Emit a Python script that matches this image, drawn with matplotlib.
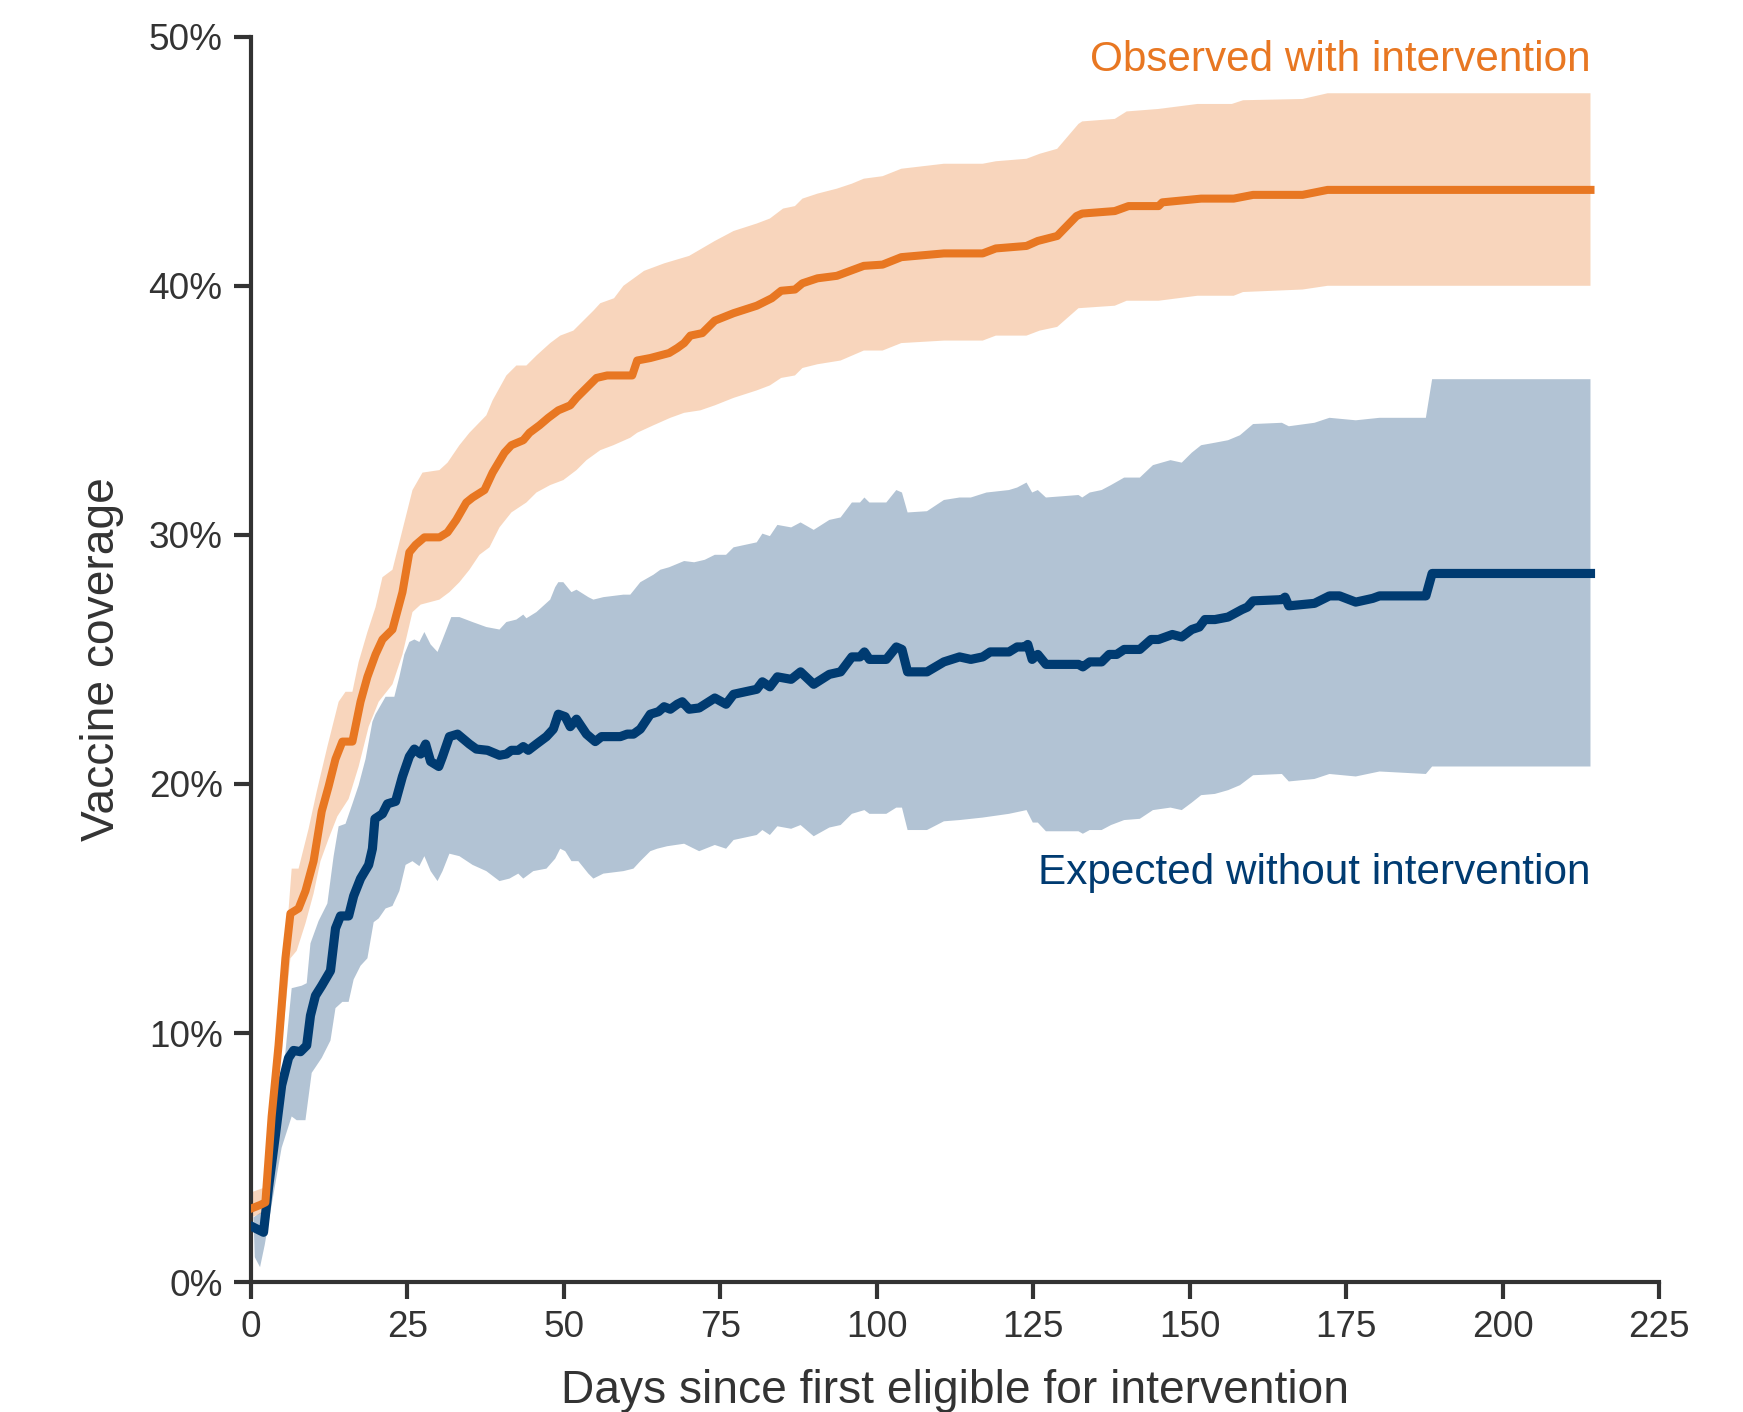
import numpy as np
import matplotlib
matplotlib.use("Agg")
import matplotlib.pyplot as plt

# ---- data (day, coverage %) ----
observed_mean = [(0, 2.95), (1.5, 3.1), (2.3, 3.2), (3.3, 6.65), (4.4, 9.5), (5.5, 13.0), (6.3, 14.8), (7.6, 15.0),
                 (8.7, 15.7), (10.0, 16.9), (11.3, 18.9), (12.4, 19.9), (13.5, 21.0), (14.6, 21.7), (16.2, 21.7),
                 (17.5, 23.3), (18.6, 24.3), (19.9, 25.2), (21.0, 25.8), (22.6, 26.2), (24.2, 27.7), (25.3, 29.3),
                 (26.3, 29.6), (27.7, 29.9), (30.1, 29.9), (31.4, 30.1), (32.8, 30.6), (34.4, 31.3), (35.4, 31.5),
                 (37.3, 31.8), (38.6, 32.5), (40.5, 33.3), (41.6, 33.6), (43.5, 33.8), (44.5, 34.1), (46.1, 34.4),
                 (47.5, 34.7), (49.1, 35.0), (51.0, 35.2), (52.0, 35.5), (53.6, 35.9), (55.2, 36.3), (56.9, 36.4),
                 (60.9, 36.4), (61.7, 37.0), (63.8, 37.1), (66.8, 37.3), (68.1, 37.5), (69.2, 37.7), (70.2, 38.0),
                 (72.1, 38.1), (74.1, 38.6), (77.1, 38.9), (80.8, 39.2), (83.2, 39.5), (84.7, 39.8), (86.9, 39.85),
                 (88.1, 40.1), (90.5, 40.3), (93.6, 40.4), (97.9, 40.8), (100.9, 40.85), (103.9, 41.15), (110.7, 41.3),
                 (116.9, 41.3), (119, 41.5), (123.9, 41.6), (125.7, 41.8), (128.8, 42.0), (131.9, 42.8), (132.8, 42.9),
                 (138, 43.0), (140.2, 43.2), (145, 43.2), (145.6, 43.35), (151.8, 43.5), (157, 43.5), (160.1, 43.65),
                 (168, 43.65), (172, 43.85), (214, 43.85)]

observed_upper = [(0, 3.6), (2.2, 3.8), (3.3, 7.7), (4.9, 11.3), (6.5, 16.6), (7.6, 16.6), (9.2, 18.2), (10.5, 19.7),
                  (12.2, 21.5), (14.0, 23.3), (15.1, 23.7), (16.2, 23.7), (17.2, 24.9), (18.6, 26.1), (19.9, 27.1),
                  (21.0, 28.3), (22.6, 28.6), (24.2, 30.2), (25.8, 31.8), (27.4, 32.5), (30.1, 32.6), (31.4, 32.9),
                  (33.3, 33.6), (34.9, 34.1), (37.6, 34.8), (38.6, 35.4), (40.8, 36.4), (42.4, 36.8), (44.0, 36.8),
                  (45.6, 37.2), (47.8, 37.7), (49.4, 38.0), (51.5, 38.2), (53.1, 38.6), (54.7, 39.0), (55.8, 39.3),
                  (58, 39.5), (59.5, 40.0), (62.8, 40.6), (66, 40.9), (70, 41.2), (74.1, 41.8), (77.1, 42.2),
                  (80.8, 42.5), (82.9, 42.7), (85, 43.1), (86.9, 43.2), (88.1, 43.5), (90.5, 43.7), (93.6, 43.9),
                  (96, 44.1), (97.9, 44.3), (100.9, 44.4), (103.9, 44.7), (110.7, 44.9), (116.9, 44.9), (119, 45.0),
                  (123.9, 45.1), (126, 45.3), (128.8, 45.5), (132.2, 46.5), (132.8, 46.6), (138, 46.7), (139.9, 47.0),
                  (145, 47.1), (151.2, 47.3), (156.7, 47.3), (158.5, 47.45), (168, 47.5), (172, 47.73), (214, 47.73)]

observed_lower = [(0, 2.6), (2.2, 2.8), (3.3, 5.4), (4.9, 9.5), (6.3, 13.0), (7.3, 13.3), (8.7, 14.4), (10, 15.6),
                  (11.1, 16.9), (12.4, 17.8), (13.8, 18.7), (15.6, 19.4), (17.2, 20.7), (18.8, 22.3), (20.4, 23.3),
                  (22.6, 24.0), (24.2, 25.2), (25.8, 26.9), (27.1, 27.2), (30.1, 27.4), (31.7, 27.7), (33.3, 28.1),
                  (34.9, 28.6), (36.5, 29.2), (38.1, 29.5), (39.7, 30.3), (41.6, 30.9), (44, 31.3), (45.6, 31.7),
                  (47.8, 32.0), (49.9, 32.2), (52, 32.6), (53.6, 33.0), (55.8, 33.4), (57.9, 33.6), (60.6, 33.9),
                  (61.7, 34.1), (64.3, 34.4), (67, 34.7), (69.2, 34.9), (71.8, 35.0), (74.1, 35.2), (77.1, 35.5),
                  (80.8, 35.8), (82.9, 36.0), (84.7, 36.3), (86.9, 36.4), (88.1, 36.7), (90.5, 36.85), (94.2, 37.0),
                  (97.9, 37.4), (100.9, 37.4), (103.9, 37.7), (110.7, 37.8), (116.9, 37.8), (119, 38.0), (123.9, 38.0),
                  (126, 38.2), (128.8, 38.35), (132.2, 39.1), (138, 39.2), (139.9, 39.4), (145, 39.4), (151.2, 39.6),
                  (157, 39.6), (158.5, 39.75), (168, 39.85), (172, 40.0), (214, 40.0)]

expected_mean = [(0.4, 2.2), (2.0, 2.0), (2.8, 3.8), (3.9, 5.9), (4.9, 7.9), (6.0, 9.0), (6.8, 9.3), (7.9, 9.25),
                 (8.9, 9.5), (9.5, 10.7), (10.3, 11.5), (11.3, 11.9), (12.7, 12.5), (13.5, 14.2), (14.3, 14.7),
                 (15.6, 14.7), (16.4, 15.5), (17.5, 16.2), (18.8, 16.75), (19.4, 17.4), (19.8, 18.6), (21.0, 18.8),
                 (21.8, 19.2), (23.1, 19.3), (24.2, 20.3), (25.3, 21.1), (26.1, 21.4), (27.1, 21.2), (27.9, 21.6),
                 (28.7, 20.9), (30.0, 20.7), (30.6, 21.1), (31.7, 21.9), (33.0, 22.0), (34.9, 21.6), (36.0, 21.4),
                 (37.8, 21.35), (39.7, 21.15), (40.8, 21.2), (41.6, 21.35), (42.7, 21.35), (43.5, 21.5), (44.3, 21.35),
                 (45.6, 21.6), (47.2, 21.9), (48.3, 22.2), (49.1, 22.8), (50.2, 22.7), (51.0, 22.3), (52.0, 22.6),
                 (53.6, 22.0), (55.0, 21.7), (56.0, 21.9), (59.0, 21.9), (60.1, 22.0), (61.1, 22.0), (62.2, 22.2),
                 (63.8, 22.8), (65.1, 22.9), (66.0, 23.1), (67.0, 23.0), (68.1, 23.2), (68.9, 23.3), (70.0, 23.0),
                 (71.6, 23.05), (74.1, 23.45), (75.9, 23.2), (77.1, 23.6), (80.8, 23.8), (81.7, 24.1), (82.9, 23.9),
                 (84.1, 24.3), (86.3, 24.2), (87.8, 24.5), (89.9, 24.0), (92.4, 24.4), (94.2, 24.5), (96.0, 25.1),
                 (97.3, 25.1), (98.0, 25.3), (98.8, 25.0), (101.5, 25.0), (103.1, 25.5), (104.0, 25.4), (104.9, 24.5),
                 (108.0, 24.5), (110.7, 24.9), (113.2, 25.1), (115.0, 25.0), (116.9, 25.1), (118.1, 25.3),
                 (121.1, 25.3), (122.4, 25.5), (123.6, 25.5), (124.1, 25.6), (124.8, 25.0), (125.7, 25.2),
                 (127.0, 24.8), (132.2, 24.8), (132.9, 24.7), (134.0, 24.9), (135.9, 24.9), (137.1, 25.2),
                 (138.3, 25.2), (139.5, 25.4), (142.0, 25.4), (143.8, 25.8), (145.0, 25.8), (147.2, 26.0),
                 (148.7, 25.9), (150.3, 26.2), (151.5, 26.3), (152.4, 26.6), (154.0, 26.6), (156.1, 26.7),
                 (158.3, 27.0), (159.2, 27.1), (160.1, 27.35), (164.7, 27.4), (165.2, 27.5), (165.8, 27.15),
                 (169.9, 27.25), (172.3, 27.55), (173.9, 27.55), (176.5, 27.3), (179.2, 27.45), (180.3, 27.55),
                 (187.7, 27.55), (188.7, 28.45), (214, 28.45)]

expected_upper = [(0.4, 2.6), (2.2, 2.9), (3.3, 5.4), (4.9, 7.7), (6.5, 11.8), (8.1, 11.9), (8.9, 12.0), (9.5, 13.6),
                  (10.8, 14.5), (12.2, 15.2), (13.2, 17.1), (14.0, 18.3), (15.1, 18.4), (16.2, 19.2), (17.2, 19.95),
                  (18.3, 21.0), (19.4, 22.5), (19.9, 22.8), (21.5, 23.5), (22.9, 23.5), (23.7, 24.3), (24.5, 25.2),
                  (25.3, 25.7), (26.1, 25.8), (26.9, 25.7), (27.7, 26.1), (28.7, 25.6), (29.8, 25.3), (30.6, 25.8),
                  (32.0, 26.7), (33.3, 26.7), (35.4, 26.5), (37.6, 26.3), (39.7, 26.2), (40.8, 26.5), (42.4, 26.6),
                  (43.5, 26.8), (44.0, 26.65), (45.6, 26.9), (47.8, 27.4), (48.6, 27.9), (49.1, 28.1), (49.9, 28.1),
                  (51.2, 27.7), (52.0, 27.8), (53.9, 27.5), (54.7, 27.4), (56.3, 27.5), (59.5, 27.6), (60.6, 27.6),
                  (62.2, 28.1), (64.3, 28.4), (65.4, 28.6), (66.8, 28.7), (69.2, 28.95), (70.8, 28.9), (72.5, 29.0),
                  (74.1, 29.2), (75.9, 29.2), (77.1, 29.5), (80.8, 29.7), (81.7, 30.05), (82.9, 29.95), (84.1, 30.4),
                  (86.3, 30.3), (87.8, 30.5), (89.9, 30.2), (92.4, 30.6), (94.2, 30.7), (96.0, 31.3), (97.3, 31.3),
                  (98.0, 31.5), (98.8, 31.3), (101.5, 31.3), (103.1, 31.8), (104.0, 31.7), (104.9, 30.9),
                  (108.0, 30.95), (110.7, 31.4), (113.2, 31.5), (115.0, 31.5), (117.5, 31.7), (121.1, 31.8),
                  (122.4, 31.9), (123.9, 32.1), (124.8, 31.7), (125.7, 31.8), (127.0, 31.5), (132.2, 31.6),
                  (132.8, 31.5), (134.0, 31.7), (135.9, 31.8), (137.4, 32.0), (139.5, 32.3), (142.0, 32.3),
                  (144.1, 32.8), (146.9, 33.0), (148.7, 32.9), (150.3, 33.3), (151.8, 33.6), (154.0, 33.7),
                  (156.1, 33.8), (158.0, 34.0), (160.1, 34.45), (164.7, 34.5), (165.8, 34.36), (169.9, 34.5),
                  (172.3, 34.7), (176.5, 34.6), (180.3, 34.7), (187.7, 34.7), (188.7, 36.25), (214, 36.25)]

expected_lower = [(0.6, 1.0), (1.45, 0.6), (2.2, 1.5), (3.3, 3.1), (4.9, 5.4), (6.5, 6.65), (7.3, 6.5), (8.7, 6.5),
                  (9.7, 8.4), (11.3, 9.0), (12.7, 9.7), (13.5, 11.0), (14.6, 11.25), (15.6, 11.25), (16.4, 12.15),
                  (17.5, 12.7), (18.6, 13.0), (19.6, 14.45), (20.4, 14.6), (21.5, 15.0), (22.6, 15.1), (23.7, 15.7),
                  (24.7, 16.75), (25.8, 16.9), (26.9, 16.7), (27.7, 17.1), (28.7, 16.5), (29.8, 16.1), (30.6, 16.5),
                  (31.7, 17.2), (33.3, 17.1), (35.4, 16.75), (37.6, 16.5), (39.7, 16.1), (41.3, 16.2), (42.7, 16.4),
                  (43.5, 16.2), (45.1, 16.5), (47.2, 16.6), (48.6, 17.0), (49.4, 17.4), (50.2, 17.3), (51.2, 16.9),
                  (52.3, 16.9), (53.9, 16.4), (54.7, 16.2), (56.3, 16.4), (59.5, 16.5), (61.1, 16.6), (62.2, 16.9),
                  (63.8, 17.3), (64.9, 17.4), (66.5, 17.5), (69.2, 17.6), (71.6, 17.3), (74.1, 17.55), (75.9, 17.4),
                  (77.1, 17.75), (80.8, 17.95), (81.7, 18.15), (82.9, 17.95), (84.1, 18.3), (86.3, 18.2),
                  (87.8, 18.35), (89.9, 17.9), (92.4, 18.25), (94.2, 18.35), (96.0, 18.8), (98.0, 18.95), (98.8, 18.8),
                  (101.5, 18.8), (103.1, 19.05), (104.0, 19.05), (104.9, 18.15), (108.0, 18.15), (110.7, 18.5),
                  (113.2, 18.55), (116.9, 18.65), (121.1, 18.8), (123.9, 18.95), (124.9, 18.45), (125.7, 18.45),
                  (127.0, 18.1), (132.2, 18.1), (132.9, 18.0), (134.0, 18.15), (135.9, 18.15), (137.4, 18.35),
                  (139.5, 18.55), (142.0, 18.6), (144.1, 18.95), (146.9, 19.05), (148.7, 18.95), (150.3, 19.25),
                  (151.8, 19.55), (154.0, 19.6), (156.1, 19.75), (158.0, 19.95), (160.1, 20.35), (164.7, 20.4),
                  (165.8, 20.1), (169.9, 20.2), (172.3, 20.4), (176.5, 20.3), (180.3, 20.5), (187.7, 20.4),
                  (188.7, 20.7), (214, 20.7)]

x_ticks = [0, 25, 50, 75, 100, 125, 150, 175, 200, 225]
y_ticks = [0, 10, 20, 30, 40, 50]
label_observed = "Observed with intervention"
label_expected = "Expected without intervention"
x_label = "Days since first eligible for intervention"
y_label = "Vaccine coverage"

ORANGE = "#E87722"
BLUE = "#003B71"
GREY = "#333333"

plt.rcParams['font.family'] = ['Liberation Sans', 'DejaVu Sans']

fig = plt.figure(figsize=(1743 / 200, 1412 / 200), dpi=200)
ax = fig.add_axes([0.144, 0.092, 0.808, 0.882])


def xy(pairs):
    a = np.array(pairs, dtype=float)
    return a[:, 0], a[:, 1]


def band(upper, lower, color):
    ux, uy = xy(upper)
    lx, ly = xy(lower)
    ax.fill(np.r_[ux, lx[::-1]], np.r_[uy, ly[::-1]], color=color, alpha=0.3, lw=0, zorder=1)


band(expected_upper, expected_lower, BLUE)
band(observed_upper, observed_lower, ORANGE)

ex, ey = xy(expected_mean)
ax.plot(ex, ey, color=BLUE, lw=3.3, solid_joinstyle='round', zorder=3)
ox, oy = xy(observed_mean)
ax.plot(ox, oy, color=ORANGE, lw=2.9, solid_joinstyle='round', zorder=4)

ax.text(214, 49.05, label_observed, color=ORANGE, fontsize=15.2, ha='right', va='center')
ax.text(214, 16.42, label_expected, color=BLUE, fontsize=15.2, ha='right', va='center')

ax.set_xlim(0, 225)
ax.set_ylim(0, 50)
ax.set_xticks(x_ticks)
ax.set_yticks(y_ticks)
ax.set_yticklabels([f"{v}%" for v in y_ticks])

for s in ['top', 'right']:
    ax.spines[s].set_visible(False)
for s in ['left', 'bottom']:
    ax.spines[s].set_color(GREY)
    ax.spines[s].set_linewidth(1.5)
ax.tick_params(axis='both', colors=GREY, labelcolor=GREY, labelsize=13.3, length=6, width=1.5, pad=4.2)

ax.set_xlabel(x_label, fontsize=16.6, color=GREY, labelpad=8.5)
ax.set_ylabel(y_label, fontsize=16.6, color=GREY, labelpad=9)

fig.savefig("out.png", dpi=200, facecolor="white")
